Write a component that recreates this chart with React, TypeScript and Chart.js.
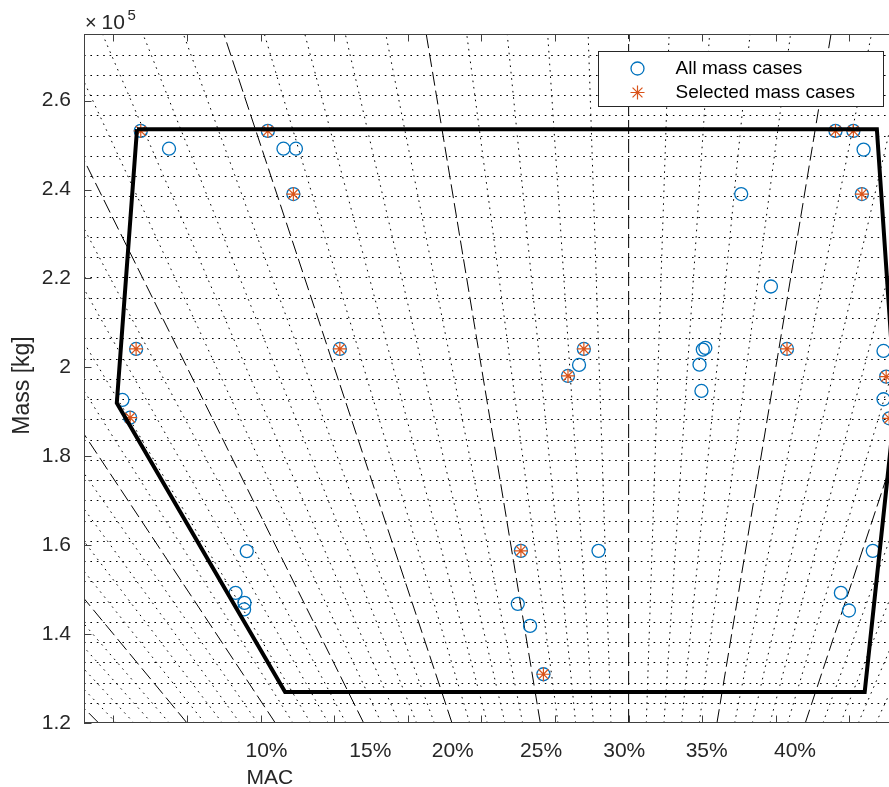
import React, { useEffect, useRef } from 'react';
import { Chart, registerables } from 'chart.js';

Chart.register(...registerables);

// ---- Data (centre of gravity in %MAC, mass in kg) ----
const allMac = [
  16.91, 20.32, 35.55, 36.03,
  17.47, 20.59, 20.93, 36.41,
  20.47, 33.2, 36.63,
  34.43,
  13.61, 20.39, 28.51, 32.47, 32.55, 35.27, 38.5,
  27.92, 28.32, 32.4, 38.84, 32.54, 38.98, 39.39, 12.15, 12.05,
  13.65, 25.39, 28.71, 40.45,
  12.11, 12.25, 12.05, 24.87, 25.28, 25.58, 39.66, 40.3,
];
const allMass = [
  253200, 253200, 253200, 253200,
  249200, 249200, 249200, 249000,
  239000, 239000, 239000,
  218200,
  204150, 204150, 204150, 204000, 204400, 204150, 203700,
  198070, 200550, 200620, 197920, 194700, 192830, 188550, 192670, 188680,
  158670, 158730, 158730, 158730,
  149270, 147020, 145540, 146800, 141840, 130970, 149270, 145310,
];
const selMac = [16.91, 20.32, 35.55, 36.03, 20.47, 36.63, 13.61, 20.39, 28.51, 35.27, 27.92, 38.84, 39.39, 12.05, 25.39, 25.58];
const selMass = [253200, 253200, 253200, 253200, 239000, 239000, 204150, 204150, 204150, 204150, 198070, 197920, 188550, 188680, 158730, 130970];

// envelope vertices
const envMac = [16.83, 36.65, 39.44, 42.63, 11.62, 11.89, 16.83];
const envMass = [253600, 253600, 192000, 126980, 126980, 192000, 253600];

// axis ticks
const yTickVals = [120000, 140000, 160000, 180000, 200000, 220000, 240000, 260000];
const xTickVals = [-70, -60, -50, -40, -30, -20, -10, 0, 10, 20, 30];

// %MAC labels along the bottom axis (positions in index units)
const macLabels = ['10%', '15%', '20%', '25%', '30%', '35%', '40%'];
const macLabelIdx = [-49.2, -35.1, -23.9, -11.9, -0.6, 10.6, 22.6];

// reference %MAC (vertical line) and gridline settings
const REF_MAC = 30;
const MAC_LINES_FROM = -5;
const MAC_LINES_TO = 50;
const MASS_GRID_START = 124504;
const MASS_GRID_STEP = 4558;

const FONT = '"Liberation Sans", Arial, Helvetica, sans-serif';

const toIdx = (mac: number, mass: number) => 2 * (mac - REF_MAC) * mass / 1e5;

const cgPlugin = {
  id: 'cgPlugin',
  beforeDatasetsDraw(chart: any) {
    const { ctx, chartArea: a, scales } = chart;
    const x = scales.x, y = scales.y;
    ctx.save();
    ctx.beginPath();
    ctx.rect(a.left, a.top, a.right - a.left, a.bottom - a.top);
    ctx.clip();
    ctx.strokeStyle = '#000';
    // horizontal mass grid
    ctx.lineWidth = 1;
    ctx.setLineDash([1.6, 4.8]);
    for (let m = MASS_GRID_START; m <= y.max; m += MASS_GRID_STEP) {
      const py = Math.round(y.getPixelForValue(m)) + 0.5;
      ctx.beginPath();
      ctx.moveTo(a.left, py);
      ctx.lineTo(a.right, py);
      ctx.stroke();
    }
    // %MAC lines
    for (let p = MAC_LINES_FROM; p <= MAC_LINES_TO; p++) {
      const dashed = p % 5 === 0;
      ctx.setLineDash(dashed ? [14, 5] : [1.6, 4.8]);
      ctx.lineWidth = 1;
      const x1 = x.getPixelForValue(toIdx(p, y.min));
      const y1 = y.getPixelForValue(y.min);
      const x2 = x.getPixelForValue(toIdx(p, y.max));
      const y2 = y.getPixelForValue(y.max);
      ctx.beginPath();
      ctx.moveTo(x1, y1);
      ctx.lineTo(x2, y2);
      ctx.stroke();
    }
    ctx.restore();
  },
  afterDraw(chart: any) {
    const { ctx, chartArea: a, scales } = chart;
    const x = scales.x, y = scales.y;
    ctx.save();
    ctx.setLineDash([]);
    // axes
    ctx.strokeStyle = '#404040';
    ctx.lineWidth = 1;
    ctx.beginPath();
    ctx.moveTo(a.left + 0.5, a.top);
    ctx.lineTo(a.left + 0.5, a.bottom);
    ctx.moveTo(a.left, a.top + 0.5);
    ctx.lineTo(a.right, a.top + 0.5);
    ctx.moveTo(a.left, a.bottom - 0.5);
    ctx.lineTo(a.right, a.bottom - 0.5);
    ctx.stroke();
    // ticks (inward)
    ctx.beginPath();
    y.ticks.forEach((t: any) => {
      const py = Math.round(y.getPixelForValue(t.value)) + 0.5;
      ctx.moveTo(a.left, py);
      ctx.lineTo(a.left + 7.5, py);
    });
    x.ticks.forEach((t: any) => {
      const px = Math.round(x.getPixelForValue(t.value)) + 0.5;
      ctx.moveTo(px, a.bottom);
      ctx.lineTo(px, a.bottom - 7.5);
      ctx.moveTo(px, a.top);
      ctx.lineTo(px, a.top + 7.5);
    });
    ctx.stroke();

    // %MAC tick labels
    ctx.fillStyle = '#262626';
    ctx.font = `21px ${FONT}`;
    ctx.textAlign = 'center';
    ctx.textBaseline = 'alphabetic';
    macLabels.forEach((lab, i) => {
      ctx.fillText(lab, x.getPixelForValue(macLabelIdx[i]), a.bottom + 34);
    });
    ctx.textAlign = 'left';
    ctx.fillText('MAC', x.getPixelForValue(macLabelIdx[0]) - 20, a.bottom + 60.5);

    // exponent label
    ctx.font = `20px ${FONT}`;
    ctx.fillText('\u00d7', a.left + 1, 28.5);
    ctx.font = `21px ${FONT}`;
    ctx.fillText('10', a.left + 17.5, 28.5);
    ctx.font = `15px ${FONT}`;
    ctx.fillText('5', a.left + 43.5, 20.3);

    // y title
    ctx.save();
    ctx.translate(28.5, (a.top + a.bottom) / 2 + 7);
    ctx.rotate(-Math.PI / 2);
    ctx.textAlign = 'center';
    ctx.font = `23px ${FONT}`;
    ctx.fillText('Mass [kg]', 0, 0);
    ctx.restore();

    // legend
    const lx = 598.5, ly = 51.5, lw = 285, lh = 55;
    ctx.fillStyle = '#fff';
    ctx.fillRect(lx, ly, lw, lh);
    ctx.strokeStyle = '#262626';
    ctx.lineWidth = 1;
    ctx.strokeRect(lx, ly, lw, lh);
    const ds = chart.data.datasets;
    const allDs = ds.find((d: any) => d.label === 'All mass cases');
    const selDs = ds.find((d: any) => d.label === 'Selected mass cases');
    const sx = lx + 39;
    ctx.strokeStyle = allDs.borderColor;
    ctx.lineWidth = allDs.borderWidth;
    ctx.beginPath();
    ctx.arc(sx, ly + 17, allDs.pointRadius, 0, Math.PI * 2);
    ctx.stroke();
    ctx.strokeStyle = selDs.borderColor;
    ctx.lineWidth = selDs.borderWidth;
    ctx.beginPath();
    const r = selDs.pointRadius;
    for (let k = 0; k < 4; k++) {
      const ang = (k * Math.PI) / 4;
      ctx.moveTo(sx - r * Math.cos(ang), ly + 41 - r * Math.sin(ang));
      ctx.lineTo(sx + r * Math.cos(ang), ly + 41 + r * Math.sin(ang));
    }
    ctx.stroke();
    ctx.fillStyle = '#000';
    ctx.font = `19px ${FONT}`;
    ctx.textAlign = 'left';
    ctx.textBaseline = 'middle';
    ctx.fillText(allDs.label, lx + 77, ly + 17.5);
    ctx.fillText(selDs.label, lx + 77, ly + 41.5);
    ctx.restore();
  },
};

export default function App() {
  const ref = useRef<HTMLCanvasElement | null>(null);
  useEffect(() => {
    if (!ref.current) return;
    const allPts = allMac.map((m, i) => ({ x: toIdx(m, allMass[i]), y: allMass[i] }));
    const selPts = selMac.map((m, i) => ({ x: toIdx(m, selMass[i]), y: selMass[i] }));
    const envPts = envMac.map((m, i) => ({ x: toIdx(m, envMass[i]), y: envMass[i] }));
    const chart = new Chart(ref.current, {
      type: 'scatter',
      data: {
        datasets: [
          {
            label: 'Envelope',
            data: envPts,
            showLine: true,
            borderColor: '#000',
            borderWidth: 4,
            pointRadius: 0,
            fill: false,
            tension: 0,
            order: 0,
          } as any,
          {
            label: 'Selected mass cases',
            data: selPts,
            pointStyle: 'star',
            pointRadius: 7,
            borderColor: '#D95319',
            backgroundColor: '#D95319',
            borderWidth: 1.2,
            order: 1,
          },
          {
            label: 'All mass cases',
            data: allPts,
            pointStyle: 'circle',
            pointRadius: 6.5,
            borderColor: '#0072BD',
            backgroundColor: 'rgba(0,0,0,0)',
            borderWidth: 1.3,
            order: 2,
          },
        ],
      },
      options: {
        responsive: false,
        animation: false,
        events: [],
        layout: { autoPadding: false, padding: { top: 34, left: 0, right: 0, bottom: 0 } },
        plugins: { legend: { display: false }, tooltip: { enabled: false } },
        scales: {
          x: {
            type: 'linear',
            min: -74,
            max: 38.23,
            ticks: { display: false },
            grid: { display: false, drawTicks: false },
            border: { display: false },
            afterBuildTicks: (s: any) => { s.ticks = xTickVals.map((v) => ({ value: v })); },
            afterFit: (s: any) => { s.height = 64; },
          },
          y: {
            type: 'linear',
            min: 120000,
            max: 275000,
            ticks: {
              padding: 13,
              color: '#262626',
              font: { family: FONT, size: 21 },
              callback: (v: any) => String(Number(v) / 1e5),
            },
            grid: { display: false, drawTicks: false },
            border: { display: false },
            afterBuildTicks: (s: any) => { s.ticks = yTickVals.map((v) => ({ value: v })); },
            afterFit: (s: any) => { s.width = 84; },
          },
        },
      } as any,
      plugins: [cgPlugin],
    });
    return () => chart.destroy();
  }, []);
  return (
    <div style={{ position: 'fixed', left: 0, top: 0, width: 889, height: 787, overflow: 'hidden', background: '#fff' }}>
      <canvas ref={ref} width={910} height={787} style={{ display: 'block' }} />
    </div>
  );
}
